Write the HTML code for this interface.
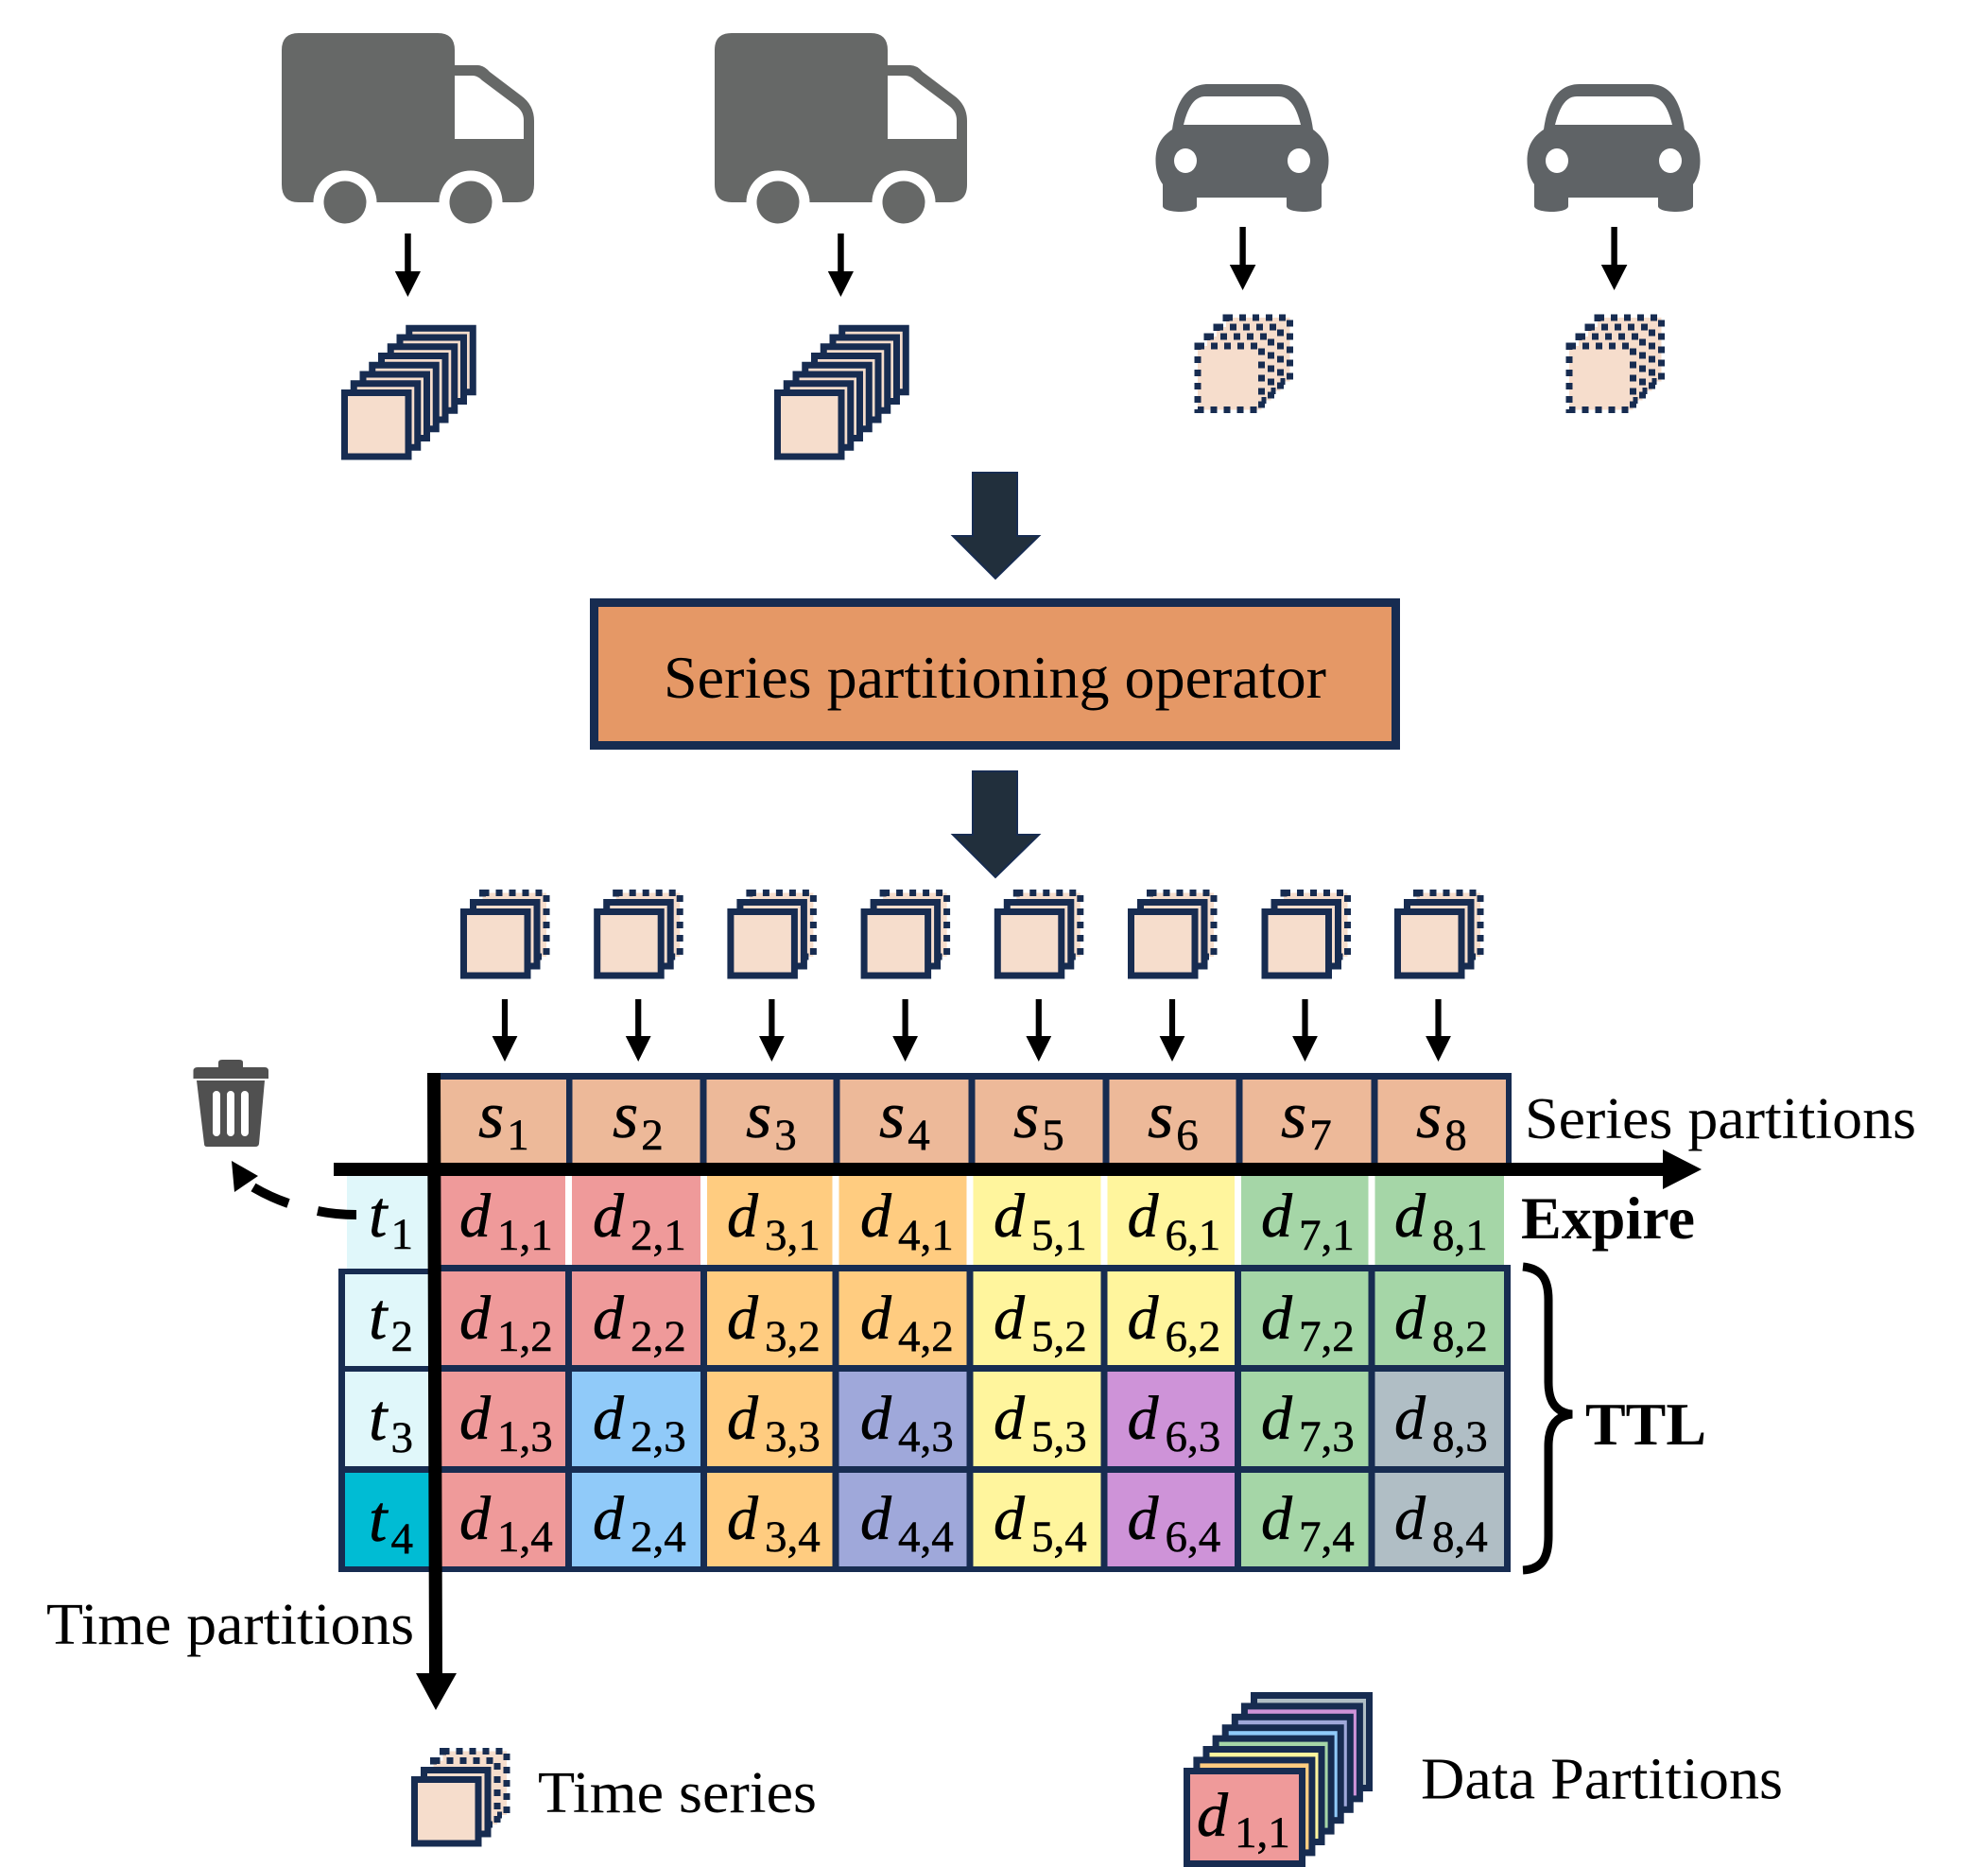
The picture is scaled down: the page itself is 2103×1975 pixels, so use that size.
<!DOCTYPE html>
<html><head><meta charset="utf-8"><title>Series partitioning diagram</title>
<style>
html,body{margin:0;padding:0;background:#fff}
svg{display:block}
text{font-family:"Liberation Serif",serif;fill:#000}
.d{font-style:italic;font-size:66px;stroke:#000;stroke-width:.5px}
.s{font-style:italic;font-size:70px;stroke:#000;stroke-width:.5px}
.n{font-style:normal;font-size:47px}
.l{font-size:62px}
.b{font-size:63px;font-weight:bold}
</style></head><body>
<svg xmlns="http://www.w3.org/2000/svg" width="2103" height="1975" viewBox="0 0 2103 1975">
<defs>
<rect id="sq" x="0" y="0" width="67.5" height="67.5" fill="#F6DDCC" stroke="#172C51" stroke-width="7"/>
<rect id="dq" x="0" y="0" width="67.5" height="67.5" fill="#F6DDCC" stroke="#172C51" stroke-width="7" stroke-dasharray="7 7"/>
<g id="truck">
<path d="M316,35 L463,35 Q481,35 481,53 L481,69 L505,69 Q512,69 518,76 L551,101 Q565,111 565,128 L565,195 Q565,214 547,214 L316,214 Q298,214 298,195 L298,53 Q298,35 316,35 Z M481,80 L481,147 L554,147 L554,127 Q554,118 546,112 L510,85 Q505,80 500,80 Z" fill="#666867" fill-rule="evenodd"/>
<circle cx="365" cy="214" r="33.5" fill="#fff"/><circle cx="498" cy="214" r="33.5" fill="#fff"/>
<rect x="330" y="214.5" width="70" height="30" fill="#fff"/><rect x="463" y="214.5" width="70" height="30" fill="#fff"/>
<circle cx="365" cy="214" r="22.5" fill="#666867"/><circle cx="498" cy="214" r="22.5" fill="#666867"/>
<polygon points="428.2,247 434.7,247 434.7,287 445,287 431.4,314 417.8,287 428.2,287" fill="#000"/>
<g transform="translate(364.5,415.5)">
<use href="#sq" x="68.25" y="-68.25"/><use href="#sq" x="58.5" y="-58.5"/><use href="#sq" x="48.75" y="-48.75"/><use href="#sq" x="39" y="-39"/><use href="#sq" x="29.25" y="-29.25"/><use href="#sq" x="19.5" y="-19.5"/><use href="#sq" x="9.75" y="-9.75"/><use href="#sq" x="0" y="0"/>
</g>
</g>
<g id="car">
<path d="M1240,137 C1244,108 1255,89 1278,89 L1352,89 C1375,89 1385,108 1389,137 C1400,145 1405.5,155 1405.5,170 C1405.5,180 1403,188 1398,195 L1398,218 C1398,222 1388,224 1380,224 C1370,224 1361,222 1361,218 L1361,209 L1266,209 L1266,218 C1266,222 1257,224 1248,224 C1240,224 1230,222 1230,218 L1230,195 C1225,188 1222.5,180 1222.5,170 C1222.5,155 1228,145 1240,137 Z M1252,132 L1376,132 C1371,112 1364,102 1352,102 L1275,102 C1264,102 1257,112 1252,132 Z" fill="#5F6366" fill-rule="evenodd"/>
<ellipse cx="1254" cy="170" rx="12" ry="13" fill="#fff"/><ellipse cx="1374" cy="170" rx="12" ry="13" fill="#fff"/>
<polygon points="1311.4,240 1317.8,240 1317.8,280 1328.4,280 1314.6,307 1300.8,280 1311.4,280" fill="#000"/>
<g transform="translate(1267,366)">
<use href="#dq" x="30" y="-30"/><use href="#dq" x="20" y="-20"/><use href="#dq" x="10" y="-10"/><use href="#dq" x="0" y="0"/>
</g>
</g>
<g id="ser">
<use href="#dq" x="510.5" y="944.5"/><use href="#sq" x="500.5" y="954.5"/><use href="#sq" x="490.5" y="964.5"/>
</g>
<polygon id="arr" points="530.9,1057 537.1,1057 537.1,1096 547.4,1096 534,1123 520.6,1096 530.9,1096" fill="#000"/>
<polygon id="big" points="1029,1 1076,1 1076,68 1099,68 1053,113 1008,68 1029,68" fill="#212F3C" stroke="#172C51" stroke-width="2"/>
</defs>

<use href="#truck"/><use href="#truck" x="458"/>
<use href="#car"/><use href="#car" x="393"/>

<use href="#big" y="499"/>
<use href="#big" y="815"/>

<rect x="628.5" y="637.5" width="848" height="151" fill="#E59866" stroke="#172C51" stroke-width="9"/>
<text x="702" y="738" font-size="64" textLength="701" lengthAdjust="spacingAndGlyphs">Series partitioning operator</text>

<use href="#ser"/><use href="#ser" x="141.2"/><use href="#ser" x="282.4"/><use href="#ser" x="423.6"/><use href="#ser" x="564.8"/><use href="#ser" x="706"/><use href="#ser" x="847.5"/><use href="#ser" x="988"/>
<use href="#arr"/><use href="#arr" x="141.2"/><use href="#arr" x="282.4"/><use href="#arr" x="423.6"/><use href="#arr" x="564.8"/><use href="#arr" x="706"/><use href="#arr" x="846.5"/><use href="#arr" x="987.500"/>

<!-- header -->
<rect x="459" y="1135" width="1140" height="100" fill="#172C51"/>
<rect x="466" y="1142" width="133" height="90" fill="#EDB999"/>
<rect x="605.5" y="1142" width="135" height="90" fill="#EDB999"/>
<rect x="747.5" y="1142" width="134" height="90" fill="#EDB999"/>
<rect x="888.5" y="1142" width="136" height="90" fill="#EDB999"/>
<rect x="1031.5" y="1142" width="135" height="90" fill="#EDB999"/>
<rect x="1173.5" y="1142" width="134" height="90" fill="#EDB999"/>
<rect x="1314.5" y="1142" width="136" height="90" fill="#EDB999"/>
<rect x="1457.5" y="1142" width="135.5" height="90" fill="#EDB999"/>

<!-- table back -->
<rect x="452" y="1338" width="1146" height="325" fill="#172C51"/>
<rect x="358" y="1342" width="102" height="321" fill="#172C51"/>

<!-- time column -->
<rect x="367" y="1244" width="86" height="98" fill="#E0F7FA"/>
<rect x="365" y="1348" width="89" height="97" fill="#E0F7FA"/>
<rect x="365" y="1451" width="89" height="100" fill="#E0F7FA"/>
<rect x="365" y="1558" width="89" height="99" fill="#00BCD4"/>

<!-- row 1 -->
<g>
<rect x="466" y="1244" width="132" height="94" fill="#EF9A9A"/><rect x="605" y="1244" width="136" height="94" fill="#EF9A9A"/>
<rect x="748" y="1244" width="132.500" height="94" fill="#FFCC80"/><rect x="887.5" y="1244" width="135" height="94" fill="#FFCC80"/>
<rect x="1029.5" y="1244" width="135" height="94" fill="#FFF59D"/><rect x="1171.5" y="1244" width="134.500" height="94" fill="#FFF59D"/>
<rect x="1313" y="1244" width="134.500" height="94" fill="#A5D6A7"/><rect x="1454.5" y="1244" width="136.500" height="94" fill="#A5D6A7"/>
</g>
<!-- row 2 -->
<g>
<rect x="466" y="1345" width="132" height="99" fill="#EF9A9A"/><rect x="605" y="1345" width="136" height="99" fill="#EF9A9A"/>
<rect x="748" y="1345" width="132.500" height="99" fill="#FFCC80"/><rect x="887.5" y="1345" width="135" height="99" fill="#FFCC80"/>
<rect x="1029.5" y="1345" width="135" height="99" fill="#FFF59D"/><rect x="1171.5" y="1345" width="134.500" height="99" fill="#FFF59D"/>
<rect x="1313" y="1345" width="134.500" height="99" fill="#A5D6A7"/><rect x="1454.5" y="1345" width="136.500" height="99" fill="#A5D6A7"/>
</g>
<!-- row 3 -->
<g>
<rect x="466" y="1451" width="132" height="100" fill="#EF9A9A"/><rect x="605" y="1451" width="136" height="100" fill="#90CAF9"/>
<rect x="748" y="1451" width="132.500" height="100" fill="#FFCC80"/><rect x="887.5" y="1451" width="135" height="100" fill="#9FA8DA"/>
<rect x="1029.5" y="1451" width="135" height="100" fill="#FFF59D"/><rect x="1171.5" y="1451" width="134.500" height="100" fill="#CE93D8"/>
<rect x="1313" y="1451" width="134.500" height="100" fill="#A5D6A7"/><rect x="1454.5" y="1451" width="136.500" height="100" fill="#B0BEC5"/>
</g>
<!-- row 4 -->
<g>
<rect x="466" y="1558" width="132" height="99" fill="#EF9A9A"/><rect x="605" y="1558" width="136" height="99" fill="#90CAF9"/>
<rect x="748" y="1558" width="132.500" height="99" fill="#FFCC80"/><rect x="887.5" y="1558" width="135" height="99" fill="#9FA8DA"/>
<rect x="1029.5" y="1558" width="135" height="99" fill="#FFF59D"/><rect x="1171.5" y="1558" width="134.500" height="99" fill="#CE93D8"/>
<rect x="1313" y="1558" width="134.500" height="99" fill="#A5D6A7"/><rect x="1454.500" y="1558" width="136.500" height="99" fill="#B0BEC5"/>
</g>

<!-- header labels -->
<text class="s" x="506" y="1203">s<tspan class="n" dx="3" dy="13">1</tspan></text>
<text class="s" x="648" y="1203">s<tspan class="n" dx="3" dy="13">2</tspan></text>
<text class="s" x="789" y="1203">s<tspan class="n" dx="3" dy="13">3</tspan></text>
<text class="s" x="930" y="1203">s<tspan class="n" dx="3" dy="13">4</tspan></text>
<text class="s" x="1072" y="1203">s<tspan class="n" dx="3" dy="13">5</tspan></text>
<text class="s" x="1214" y="1203">s<tspan class="n" dx="3" dy="13">6</tspan></text>
<text class="s" x="1355" y="1203">s<tspan class="n" dx="3" dy="13">7</tspan></text>
<text class="s" x="1498" y="1203">s<tspan class="n" dx="3" dy="13">8</tspan></text>

<!-- time labels -->
<text class="s" x="390" y="1308">t<tspan class="n" dx="4" dy="13">1</tspan></text>
<text class="s" x="390" y="1416">t<tspan class="n" dx="4" dy="13">2</tspan></text>
<text class="s" x="390" y="1523">t<tspan class="n" dx="4" dy="13">3</tspan></text>
<text class="s" x="390" y="1630">t<tspan class="n" dx="4" dy="13">4</tspan></text>

<!-- data labels -->
<text class="d" x="486" y="1308">d<tspan class="n" dx="7" dy="14">1,1</tspan></text>
<text class="d" x="627" y="1308">d<tspan class="n" dx="7" dy="14">2,1</tspan></text>
<text class="d" x="769" y="1308">d<tspan class="n" dx="7" dy="14">3,1</tspan></text>
<text class="d" x="910" y="1308">d<tspan class="n" dx="7" dy="14">4,1</tspan></text>
<text class="d" x="1051" y="1308">d<tspan class="n" dx="7" dy="14">5,1</tspan></text>
<text class="d" x="1192.5" y="1308">d<tspan class="n" dx="7" dy="14">6,1</tspan></text>
<text class="d" x="1334" y="1308">d<tspan class="n" dx="7" dy="14">7,1</tspan></text>
<text class="d" x="1475" y="1308">d<tspan class="n" dx="7" dy="14">8,1</tspan></text>

<text class="d" x="486" y="1416">d<tspan class="n" dx="7" dy="13">1,2</tspan></text>
<text class="d" x="627" y="1416">d<tspan class="n" dx="7" dy="13">2,2</tspan></text>
<text class="d" x="769" y="1416">d<tspan class="n" dx="7" dy="13">3,2</tspan></text>
<text class="d" x="910" y="1416">d<tspan class="n" dx="7" dy="13">4,2</tspan></text>
<text class="d" x="1051" y="1416">d<tspan class="n" dx="7" dy="13">5,2</tspan></text>
<text class="d" x="1192.5" y="1416">d<tspan class="n" dx="7" dy="13">6,2</tspan></text>
<text class="d" x="1334" y="1416">d<tspan class="n" dx="7" dy="13">7,2</tspan></text>
<text class="d" x="1475" y="1416">d<tspan class="n" dx="7" dy="13">8,2</tspan></text>

<text class="d" x="486" y="1522">d<tspan class="n" dx="7" dy="13">1,3</tspan></text>
<text class="d" x="627" y="1522">d<tspan class="n" dx="7" dy="13">2,3</tspan></text>
<text class="d" x="769" y="1522">d<tspan class="n" dx="7" dy="13">3,3</tspan></text>
<text class="d" x="910" y="1522">d<tspan class="n" dx="7" dy="13">4,3</tspan></text>
<text class="d" x="1051" y="1522">d<tspan class="n" dx="7" dy="13">5,3</tspan></text>
<text class="d" x="1192.5" y="1522">d<tspan class="n" dx="7" dy="13">6,3</tspan></text>
<text class="d" x="1334" y="1522">d<tspan class="n" dx="7" dy="13">7,3</tspan></text>
<text class="d" x="1475" y="1522">d<tspan class="n" dx="7" dy="13">8,3</tspan></text>

<text class="d" x="486" y="1628">d<tspan class="n" dx="7" dy="13">1,4</tspan></text>
<text class="d" x="627" y="1628">d<tspan class="n" dx="7" dy="13">2,4</tspan></text>
<text class="d" x="769" y="1628">d<tspan class="n" dx="7" dy="13">3,4</tspan></text>
<text class="d" x="910" y="1628">d<tspan class="n" dx="7" dy="13">4,4</tspan></text>
<text class="d" x="1051" y="1628">d<tspan class="n" dx="7" dy="13">5,4</tspan></text>
<text class="d" x="1192.5" y="1628">d<tspan class="n" dx="7" dy="13">6,4</tspan></text>
<text class="d" x="1334" y="1628">d<tspan class="n" dx="7" dy="13">7,4</tspan></text>
<text class="d" x="1475" y="1628">d<tspan class="n" dx="7" dy="13">8,4</tspan></text>

<!-- axes -->
<polygon points="452,1135 466,1135 468,1770 483,1770 461,1809 440,1770 454,1770" fill="#000"/>
<polygon points="353,1230 1759,1230 1759,1216 1800,1237 1759,1258 1759,1244 353,1244" fill="#000"/>

<!-- labels -->
<text class="l" x="1613" y="1204" textLength="414" lengthAdjust="spacingAndGlyphs">Series partitions</text>
<text class="b" x="1609" y="1310" textLength="184" lengthAdjust="spacingAndGlyphs">Expire</text>
<text class="b" x="1677" y="1528" textLength="128" lengthAdjust="spacingAndGlyphs">TTL</text>
<text class="l" x="49" y="1739" textLength="389" lengthAdjust="spacingAndGlyphs">Time partitions</text>
<text class="l" x="569" y="1917" textLength="295" lengthAdjust="spacingAndGlyphs">Time series</text>
<text class="l" x="1503" y="1902.500" textLength="383" lengthAdjust="spacingAndGlyphs">Data Partitions</text>

<!-- brace -->
<path d="M1611,1340 C1630,1342 1638,1352 1638,1375 L1638,1462 C1638,1482 1645,1494 1663,1496 C1645,1498 1638,1510 1638,1530 L1638,1625 C1638,1650 1630,1660 1611,1661" fill="none" stroke="#000" stroke-width="9"/>

<!-- trash -->
<g fill="#505050">
<path d="M231,1129 L231,1124 Q231,1121 235,1121 L253,1121 Q257,1121 257,1124 L257,1129 L280,1129 Q284,1129 284,1133 L284,1141 L204.500,1141 L204.500,1133 Q204.500,1129 209,1129 Z"/>
<path fill-rule="evenodd" d="M208,1143 L280,1143 L274,1210 Q273.500,1213 270,1213 L219,1213 Q216,1213 216,1210 Z M225,1158 L225,1198 A4,4 0 0 0 233,1198 L233,1158 A4,4 0 0 0 225,1158 Z M240,1158 L240,1198 A4,4 0 0 0 248,1198 L248,1158 A4,4 0 0 0 240,1158 Z M255,1158 L255,1198 A4,4 0 0 0 263,1198 L263,1158 A4,4 0 0 0 255,1158 Z"/>
</g>

<!-- dashed expire arrow -->
<path d="M377,1285 Q355,1285 336,1281" fill="none" stroke="#000" stroke-width="10"/>
<path d="M305,1273 Q285,1266 268,1256" fill="none" stroke="#000" stroke-width="10"/>
<polygon points="245,1228 273,1244 248,1261" fill="#000"/>

<!-- time series legend -->
<use href="#dq" x="468.500" y="1852.500"/><use href="#dq" x="458.500" y="1862.500"/><use href="#sq" x="448.500" y="1872.500"/><use href="#sq" x="438.500" y="1882.500"/>

<!-- data partitions legend -->
<g stroke="#172C51" stroke-width="7">
<rect x="1326.500" y="1793.500" width="122" height="98" fill="#B0BEC5"/>
<rect x="1316.400" y="1804.900" width="122" height="98" fill="#CE93D8"/>
<rect x="1306.300" y="1816.300" width="122" height="98" fill="#9FA8DA"/>
<rect x="1296.200" y="1827.700" width="122" height="98" fill="#90CAF9"/>
<rect x="1286.100" y="1839.100" width="122" height="98" fill="#A5D6A7"/>
<rect x="1276" y="1850.500" width="122" height="98" fill="#FFF59D"/>
<rect x="1265.900" y="1861.900" width="122" height="98" fill="#FFCC80"/>
<rect x="1255.500" y="1873.500" width="122" height="98" fill="#EF9A9A"/>
</g>
<text class="d" x="1266" y="1942">d<tspan class="n" dx="7" dy="12">1,1</tspan></text>
</svg>
</body></html>
